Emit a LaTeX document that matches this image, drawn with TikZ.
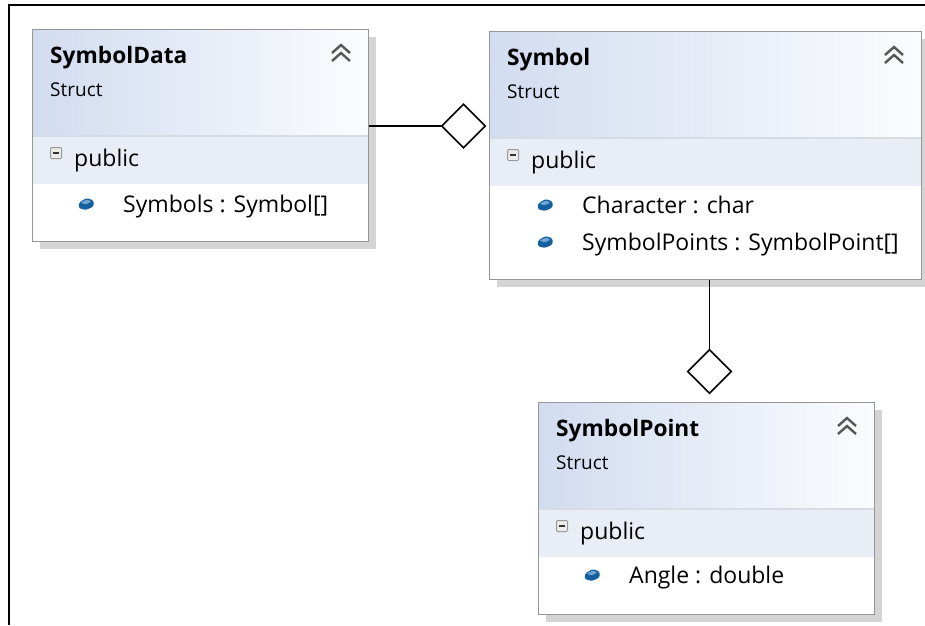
\documentclass[tikz,border=0pt]{standalone}
\usepackage{fontspec}
\setmainfont{Open Sans}
\usetikzlibrary{shapes.geometric}
\definecolor{hdblue}{RGB}{210,220,240}
\definecolor{hdwhite}{RGB}{251,252,254}
\definecolor{bandblue}{RGB}{233,237,246}
\definecolor{rulegray}{RGB}{214,219,228}
\definecolor{edgegray}{RGB}{150,150,150}
\definecolor{shadowgray}{RGB}{212,212,212}
\definecolor{fieldblue}{RGB}{20,96,158}
\definecolor{fieldtop}{RGB}{110,165,210}
\tikzstyle{box}=[draw=edgegray, line width=1.3pt, inner sep=0, anchor=north west]
\tikzstyle{agg}=[shape=diamond, draw, fill=white, line width=1.6pt, minimum width=44pt, minimum height=44pt, inner sep=0]
\tikzstyle{conn}=[line width=1.5pt]
\tikzstyle{title}=[anchor=base west, inner sep=0, font=\fontsize{22.7}{26}\selectfont\bfseries]
\tikzstyle{kind}=[anchor=base west, inner sep=0, font=\fontsize{19}{22}\selectfont]
\tikzstyle{member}=[anchor=base west, inner sep=0, font=\fontsize{23}{27}\selectfont]
\tikzstyle{chevron}=[draw=black!66, line width=2.4pt]

% struct box: name, x, y, width, height, title
\newcommand{\structbox}[6]{
\fill[shadowgray] (#2+8,#3+8) rectangle (#2+#4+8,#3+#5+8);
\fill[white] (#2,#3) rectangle (#2+#4,#3+#5);
\shade[left color=hdblue, right color=hdwhite] (#2,#3) rectangle (#2+#4,#3+107);
\fill[bandblue] (#2,#3+107) rectangle (#2+#4,#3+155);
\draw[rulegray, line width=1.2pt] (#2,#3+107) -- (#2+#4,#3+107);
\node[box, minimum width=#4pt, minimum height=#5pt] (#1) at (#2,#3) {};
\node[title] (#1-name) at (#2+18,#3+34) {#6};
\node[kind] (#1-kind) at (#2+18,#3+67) {Struct};
\draw[chevron] (#2+#4-36,#3+24) -- (#2+#4-27,#3+16) -- (#2+#4-18,#3+24)
  (#2+#4-36,#3+32) -- (#2+#4-27,#3+24) -- (#2+#4-18,#3+32);
% collapse box in front of "public"
\draw[black!40, fill=black!8, line width=1pt, rounded corners=1pt] (#2+18.5,#3+118.5) rectangle (#2+29.5,#3+129.5);
\draw[black!80, line width=1.4pt] (#2+21,#3+124) -- (#2+27,#3+124);
\node[member] (#1-vis) at (#2+42,#3+137) {public};
}
% field row: name, x, baseline, text
\newcommand{\field}[4]{
\fill[fieldblue, rounded corners=1.5pt] (#2-7.5,#3-4) -- (#2-6.5,#3-10) -- (#2+1,#3-14) -- (#2+7.5,#3-11.5)
  -- (#2+7.5,#3-5.5) -- (#2,#3-2) -- cycle;
\fill[fieldtop, rounded corners=1pt] (#2-5.5,#3-9.5) -- (#2+1,#3-12.5) -- (#2+5.5,#3-10.5) -- (#2-0.5,#3-7.5) -- cycle;
\node[member] (#1) at (#2+37,#3) {#4};
}

\begin{document}
\begin{tikzpicture}[x=1pt, y=-1pt]
\useasboundingbox (0,0) rectangle (925,625);
\draw[line width=2pt] (9,625) -- (9,5) -- (925,5);

\structbox{data}{32}{29}{336}{212}{SymbolData}
\field{data-f1}{86}{212}{Symbols : Symbol[]}

\structbox{sym}{489}{31}{432}{248}{Symbol}
\field{sym-f1}{545}{213}{Character : char}
\field{sym-f2}{545}{250}{SymbolPoints : SymbolPoint[]}

\structbox{pt}{538}{402}{336}{212}{SymbolPoint}
\field{pt-f1}{592}{583}{Angle : double}

\node at (463.5,126)[agg](aggsym){};
\node at (709.5,371.5)[agg](aggpt){};
\draw[conn] (data.east |- aggsym.west)--(aggsym.west);
\draw[conn] (aggpt.north |- sym.south)--(aggpt.north);
\end{tikzpicture}
\end{document}
